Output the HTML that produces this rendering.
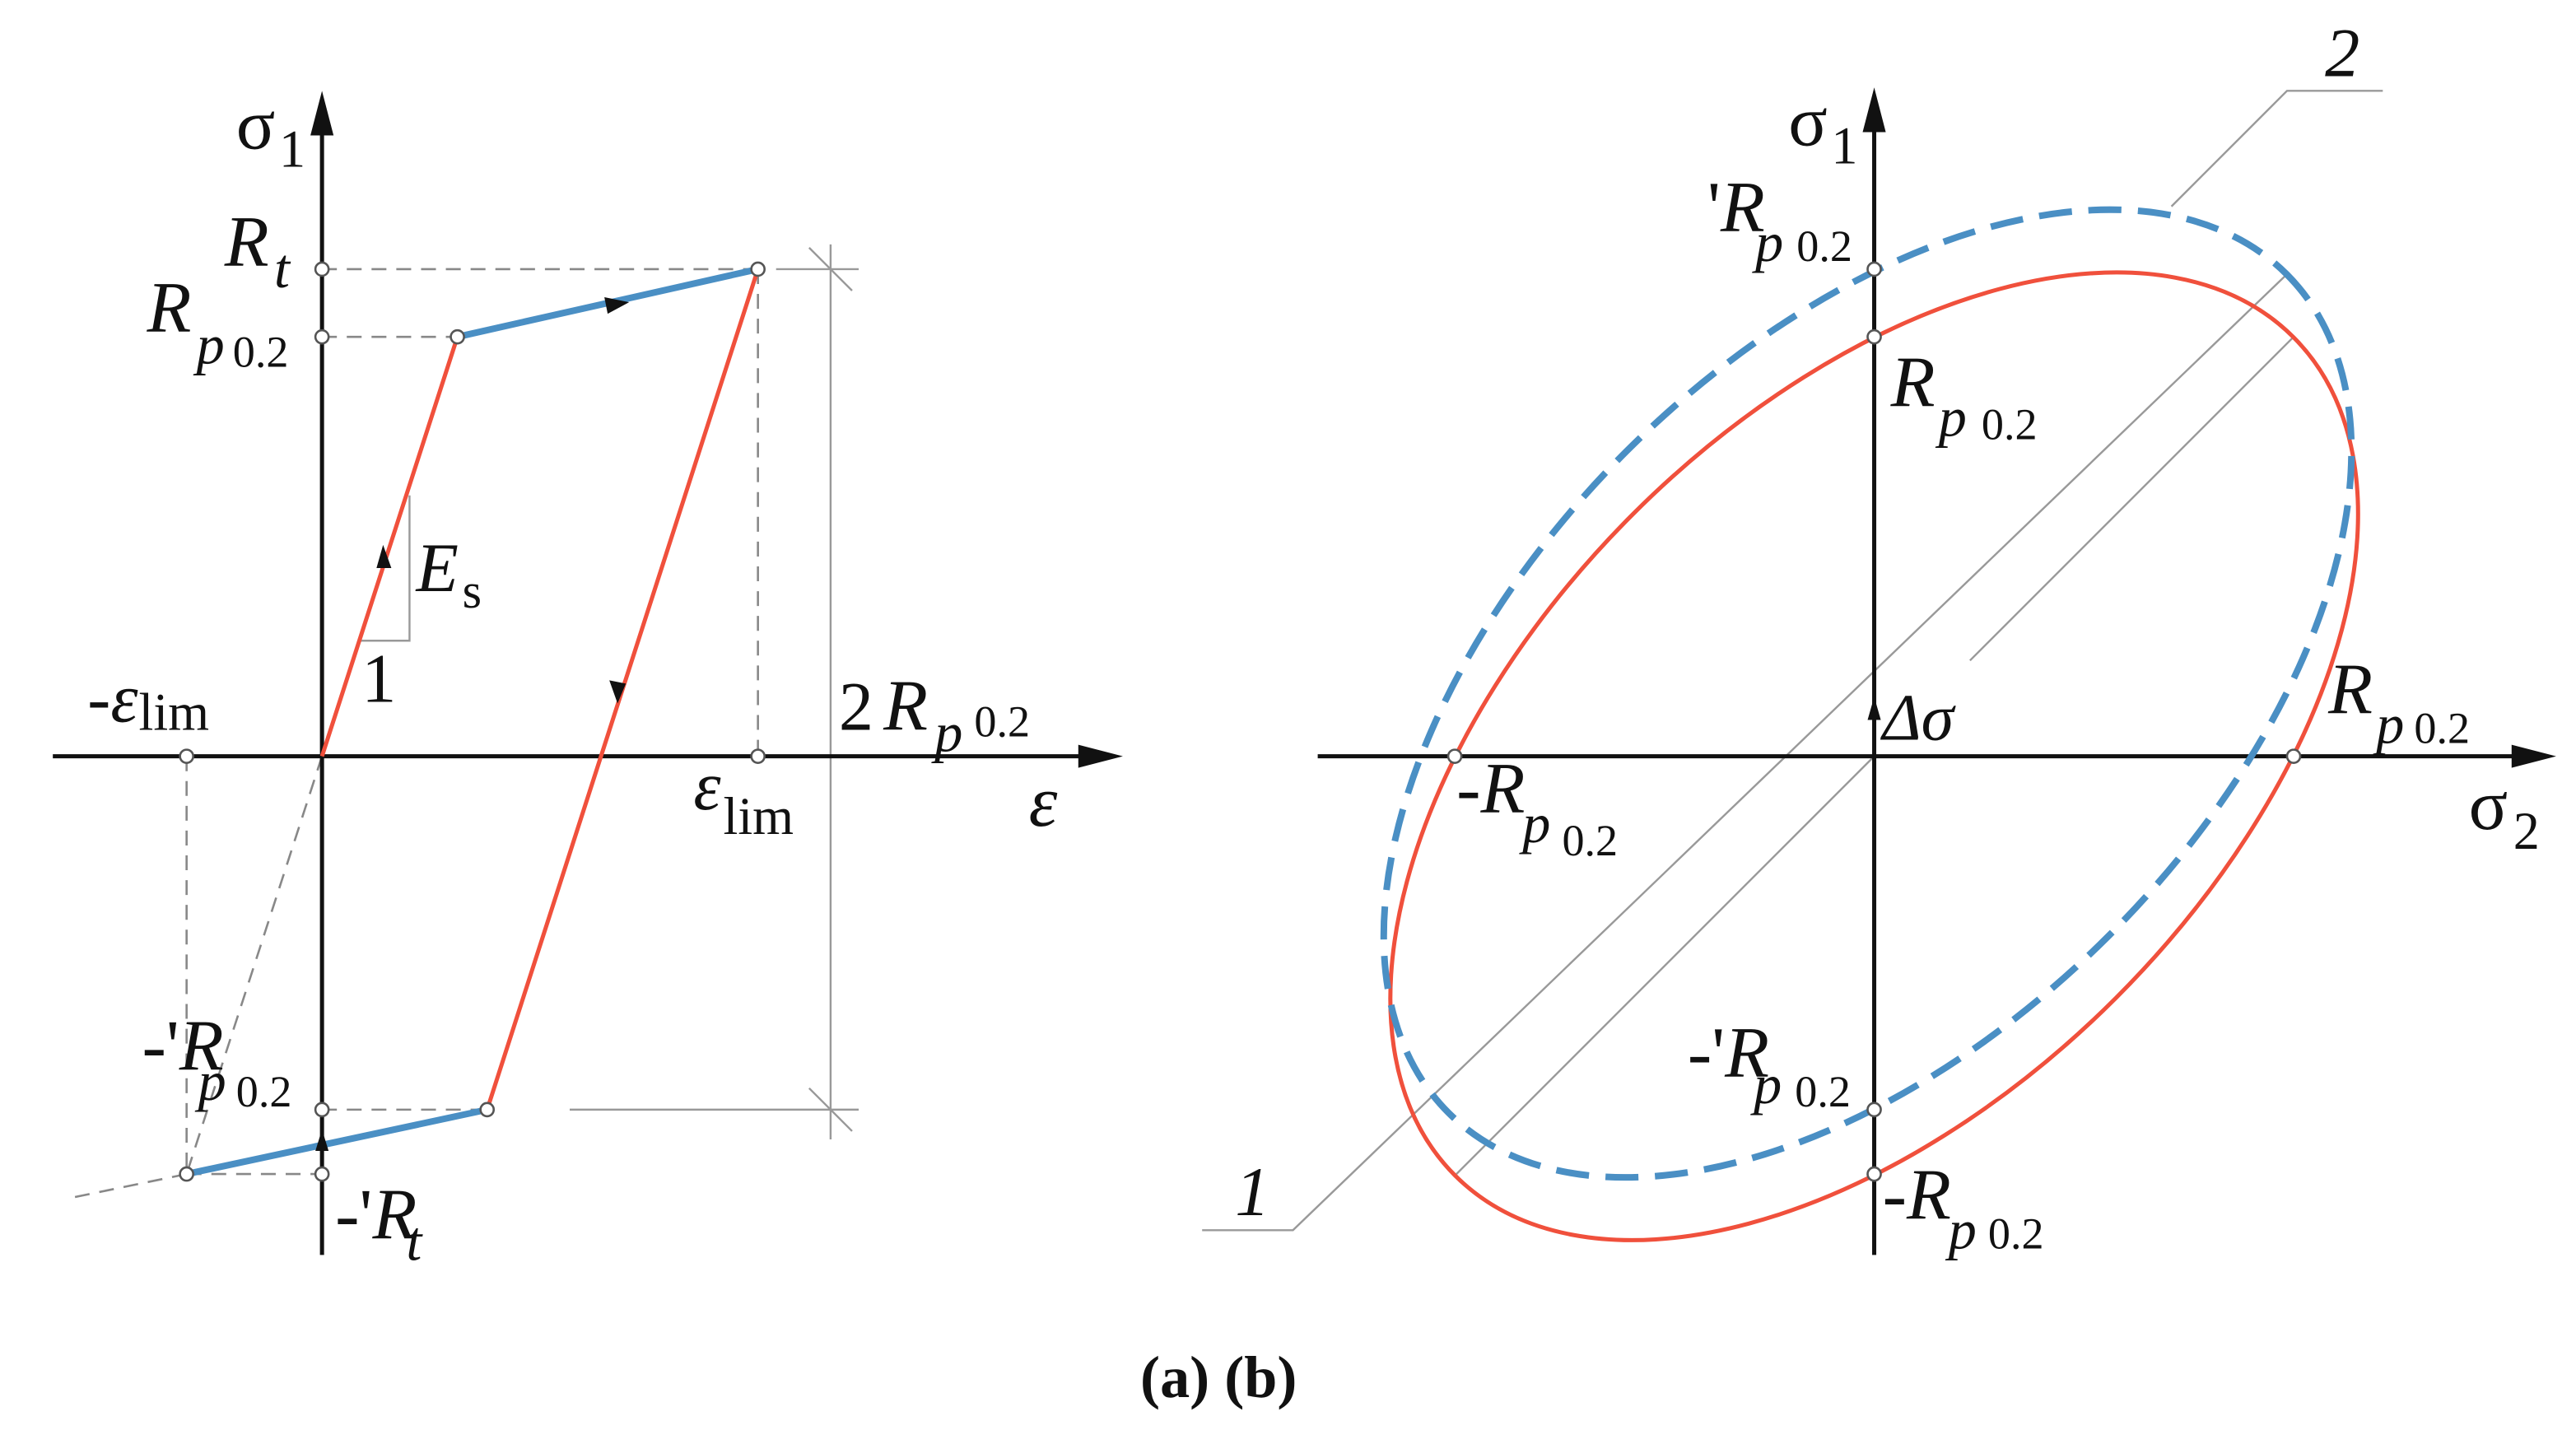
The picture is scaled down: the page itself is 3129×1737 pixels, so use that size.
<!DOCTYPE html>
<html><head><meta charset="utf-8"><style>
html,body{margin:0;padding:0;background:#fff;}
svg{display:block;}
text{font-family:"Liberation Serif",serif;fill:#111;}
.i{font-style:italic;}
</style></head><body>
<svg width="3129" height="1737" viewBox="0 0 1560 866" preserveAspectRatio="none" xmlns="http://www.w3.org/2000/svg">
<rect width="1560" height="866" fill="#fff"/>

<!-- LEFT PANEL -->
<g fill="none" stroke="#888" stroke-width="1.3" stroke-dasharray="9 6">
<line x1="195" y1="163" x2="459" y2="163"/>
<line x1="195" y1="204" x2="277" y2="204"/>
<line x1="459" y1="163" x2="459" y2="458"/>
<line x1="113" y1="458" x2="113" y2="711"/>
<line x1="195" y1="672" x2="295" y2="672"/>
<line x1="113" y1="711" x2="195" y2="711"/>
<line x1="195" y1="458" x2="113" y2="711"/>
<line x1="113" y1="711" x2="45" y2="725"/>
</g>
<g stroke="#999" stroke-width="1.2" fill="none">
<line x1="503" y1="148" x2="503" y2="690"/>
<line x1="470" y1="163" x2="520" y2="163"/>
<line x1="345" y1="672" x2="520" y2="672"/>
<line x1="490" y1="150" x2="516" y2="176"/>
<line x1="490" y1="659" x2="516" y2="685"/>
<polyline points="248,300 248,388 218,388"/>
</g>
<line x1="195" y1="760" x2="195" y2="60" stroke="#111" stroke-width="2.5"/>
<path d="M195,55 L188,82 L202,82 Z" fill="#111"/>
<line x1="32" y1="458" x2="670" y2="458" stroke="#111" stroke-width="2.5"/>
<path d="M680,458 L653,451 L653,465 Z" fill="#111"/>
<g stroke="#f0503c" stroke-width="2.5" fill="none">
<line x1="195" y1="458" x2="277" y2="204"/>
<line x1="459" y1="163" x2="295" y2="672"/>
</g>
<g stroke="#4a8fc4" stroke-width="4" fill="none">
<line x1="277" y1="204" x2="459" y2="163"/>
<line x1="113" y1="711" x2="295" y2="672"/>
</g>
<path d="M381,183 L366,180 L368,190 Z" fill="#111"/>
<path d="M374,426 L369,412 L379,414 Z" fill="#111"/>
<path d="M232,330 L228,344 L237,344 Z" fill="#111"/>
<path d="M195,684 L191,697 L199,697 Z" fill="#111"/>
<g fill="#fff" stroke="#555" stroke-width="1.3">
<circle cx="195" cy="163" r="4"/><circle cx="195" cy="204" r="4"/>
<circle cx="277" cy="204" r="4"/><circle cx="459" cy="163" r="4"/>
<circle cx="459" cy="458" r="4"/><circle cx="113" cy="458" r="4"/>
<circle cx="195" cy="672" r="4"/><circle cx="295" cy="672" r="4"/>
<circle cx="113" cy="711" r="4"/><circle cx="195" cy="711" r="4"/>
</g>
<text x="143" y="90" font-size="44">σ</text><text x="169" y="101" font-size="32">1</text>
<text x="136" y="161" font-size="44" class="i">R</text><text x="166" y="174" font-size="34" class="i">t</text>
<text x="89" y="201" font-size="44" class="i">R</text><text x="119" y="220" font-size="34" class="i">p</text><text x="141" y="222" font-size="27">0.2</text>
<text x="252" y="358" font-size="42" class="i">E</text><text x="280" y="368" font-size="30">s</text>
<text x="219" y="425" font-size="42">1</text>
<text x="53" y="437" font-size="42">-<tspan class="i">ε</tspan></text><text x="84" y="442" font-size="32">lim</text>
<text x="508" y="442" font-size="42">2</text><text x="535" y="442" font-size="44" class="i">R</text><text x="566" y="455" font-size="34" class="i">p</text><text x="590" y="446" font-size="27">0.2</text>
<text x="420" y="490" font-size="42" class="i">ε</text><text x="438" y="505" font-size="32">lim</text>
<text x="623" y="500" font-size="44" class="i">ε</text>
<text x="86" y="648" font-size="44">-'<tspan class="i">R</tspan></text><text x="120" y="666" font-size="34" class="i">p</text><text x="143" y="670" font-size="27">0.2</text>
<text x="203" y="750" font-size="44">-'<tspan class="i">R</tspan></text><text x="246" y="763" font-size="34" class="i">t</text>

<!-- RIGHT PANEL -->
<g stroke="#999" stroke-width="1.2" fill="none">
<polyline points="728,745 783,745 1385,166"/>
<line x1="881" y1="712" x2="1135" y2="458"/>
<line x1="1193" y1="400" x2="1389" y2="204"/>
<polyline points="1315,125 1385,55 1443,55"/>
</g>
<line x1="1135" y1="760" x2="1135" y2="58" stroke="#111" stroke-width="2.5"/>
<path d="M1135,53 L1128,80 L1142,80 Z" fill="#111"/>
<line x1="798" y1="458" x2="1538" y2="458" stroke="#111" stroke-width="2.5"/>
<path d="M1548,458 L1521,451 L1521,465 Z" fill="#111"/>
<ellipse cx="1135" cy="458" rx="359" ry="207" transform="rotate(-45 1135 458)" fill="none" stroke="#f0503c" stroke-width="2.5"/>
<ellipse cx="1131" cy="420" rx="359" ry="207" transform="rotate(-45 1131 420)" fill="none" stroke="#4a8fc4" stroke-width="4" stroke-dasharray="20 10"/>
<path d="M1135,422 L1131,436 L1139,436 Z" fill="#111"/>
<g fill="#fff" stroke="#555" stroke-width="1.3">
<circle cx="1135" cy="163" r="4"/><circle cx="1135" cy="204" r="4"/>
<circle cx="1135" cy="672" r="4"/><circle cx="1135" cy="711" r="4"/>
<circle cx="881" cy="458" r="4"/><circle cx="1389" cy="458" r="4"/>
</g>
<text x="1083" y="88" font-size="44">σ</text><text x="1109" y="99" font-size="32">1</text>
<text x="1034" y="140" font-size="44">'<tspan class="i">R</tspan></text><text x="1063" y="158" font-size="34" class="i">p</text><text x="1088" y="158" font-size="27">0.2</text>
<text x="1145" y="246" font-size="44" class="i">R</text><text x="1174" y="264" font-size="34" class="i">p</text><text x="1200" y="266" font-size="27">0.2</text>
<text x="1140" y="448" font-size="40" class="i">Δσ</text>
<text x="1410" y="432" font-size="44" class="i">R</text><text x="1439" y="450" font-size="34" class="i">p</text><text x="1462" y="450" font-size="27">0.2</text>
<text x="882" y="492" font-size="44">-<tspan class="i">R</tspan></text><text x="922" y="510" font-size="34" class="i">p</text><text x="946" y="518" font-size="27">0.2</text>
<text x="1495" y="502" font-size="44">σ</text><text x="1522" y="514" font-size="32">2</text>
<text x="1022" y="652" font-size="44">-'<tspan class="i">R</tspan></text><text x="1062" y="668" font-size="34" class="i">p</text><text x="1087" y="670" font-size="27">0.2</text>
<text x="1140" y="738" font-size="44">-<tspan class="i">R</tspan></text><text x="1180" y="756" font-size="34" class="i">p</text><text x="1204" y="756" font-size="27">0.2</text>
<text x="1408" y="46" font-size="42" class="i">2</text>
<text x="748" y="736" font-size="42" class="i">1</text>

<text x="738" y="846" font-size="36" font-weight="bold" text-anchor="middle">(a) (b)</text>
</svg>
</body></html>
